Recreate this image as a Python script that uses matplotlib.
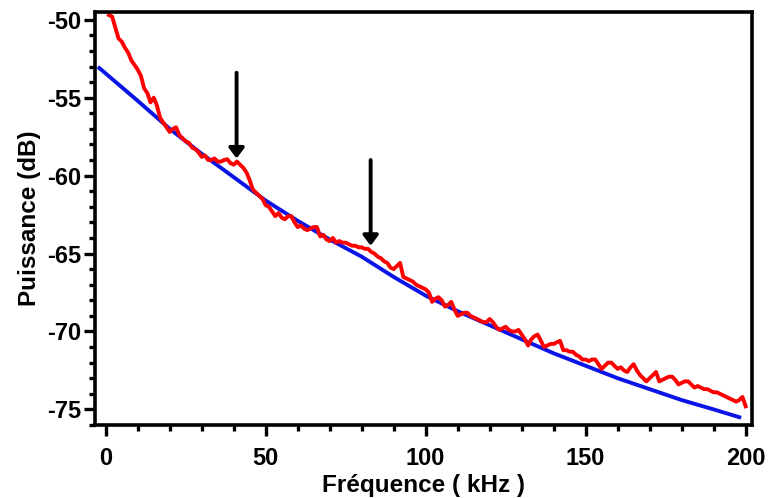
import numpy as np
import matplotlib.pyplot as plt
from matplotlib.ticker import MultipleLocator

plt.rcParams['font.family'] = ['Liberation Sans', 'DejaVu Sans']
plt.rcParams['font.weight'] = 'bold'
plt.rcParams['axes.unicode_minus'] = False

# spectre mesuré (rouge)
freq_mes = np.arange(1, 201)
p_mes = [
    -49.7, -49.8, -50.5, -51.2, -51.4, -51.8, -52.1, -52.6, -52.9, -53.2,
    -53.6, -54.4, -54.7, -55.3, -55.0, -55.5, -56.3, -56.6, -56.9, -57.2,
    -57.0, -56.9, -57.4, -57.6, -57.8, -57.9, -58.2, -58.3, -58.5, -58.8,
    -58.7, -59.0, -59.0, -58.9, -59.1, -59.1, -59.0, -58.95, -59.2, -59.3,
    -59.1, -59.3, -59.5, -59.8, -60.3, -60.9, -61.1, -61.3, -61.5, -61.9,
    -62.0, -62.3, -62.6, -62.4, -62.7, -62.8, -62.6, -62.6, -63.0, -63.3,
    -63.2, -63.4, -63.5, -63.4, -63.3, -63.3, -63.9, -63.8, -64.1, -64.2,
    -64.0, -64.3, -64.2, -64.3, -64.3, -64.4, -64.5, -64.5, -64.6, -64.6,
    -64.7, -64.7, -64.9, -65.0, -65.2, -65.3, -65.5, -65.6, -65.9, -66.0,
    -65.8, -65.6, -66.5, -66.6, -66.7, -66.8, -67.0, -67.1, -67.2, -67.3,
    -67.5, -68.1, -67.9, -67.8, -68.0, -68.4, -68.3, -68.1, -68.6, -69.0,
    -68.9, -68.8, -68.8, -69.0, -69.1, -69.2, -69.3, -69.4, -69.4, -69.2,
    -69.4, -69.7, -69.9, -69.8, -69.7, -69.9, -70.0, -70.0, -69.9, -70.2,
    -70.5, -70.9, -70.5, -70.3, -70.2, -70.6, -71.0, -70.9, -70.8, -70.8,
    -70.7, -70.6, -71.2, -71.2, -71.3, -71.3, -71.5, -71.6, -71.8, -71.8,
    -71.9, -71.8, -71.8, -72.1, -72.4, -72.2, -72.0, -72.0, -72.2, -72.4,
    -72.3, -72.5, -72.6, -72.3, -72.1, -72.5, -72.8, -73.0, -73.2, -73.0,
    -72.8, -72.6, -73.2, -73.1, -73.0, -72.9, -72.9, -73.1, -73.4, -73.3,
    -73.2, -73.2, -73.4, -73.6, -73.5, -73.6, -73.7, -73.7, -73.8, -73.9,
    -73.9, -74.0, -74.1, -74.2, -74.3, -74.4, -74.5, -74.4, -74.2, -74.8,
]

# modèle (bleu)
freq_mod = [-2, 0, 10, 20, 30, 40, 50, 60, 70, 80, 90, 100, 110, 120,
            130, 140, 150, 160, 170, 180, 190, 198]
p_mod = [-53.1, -53.45, -55.2, -57.0, -58.6, -60.1, -61.6, -62.9, -64.1,
         -65.2, -66.5, -67.7, -68.7, -69.6, -70.5, -71.4, -72.2, -73.0,
         -73.7, -74.4, -75.0, -75.5]

# flèches (x, y début, y fin)
fleches_x = [40.9, 82.8]
fleches_y0 = [-53.4, -59.0]
fleches_y1 = [-58.9, -64.5]

fig = plt.figure(figsize=(7.71, 4.98), dpi=100)
ax = fig.add_axes([0.123, 0.1466, 0.852, 0.8294])

ax.plot(freq_mod, p_mod, color='#0a14e6', lw=2.8)
ax.plot(freq_mes, p_mes, color='#ff0000', lw=2.8)

for x, y0, y1 in zip(fleches_x, fleches_y0, fleches_y1):
    ax.annotate('', xy=(x, y1), xytext=(x, y0),
                arrowprops=dict(arrowstyle='-|>,head_length=0.6,head_width=0.45',
                                color='k', lw=2.8, shrinkA=0, shrinkB=0))

ax.set_xlim(-3.4, 201.9)
ax.set_ylim(-76.0, -49.5)
ax.xaxis.set_major_locator(MultipleLocator(50))
ax.xaxis.set_minor_locator(MultipleLocator(10))
ax.yaxis.set_major_locator(MultipleLocator(5))
ax.yaxis.set_minor_locator(MultipleLocator(1))
ax.tick_params(which='major', direction='out', length=8, width=2.4,
               labelsize=17, pad=2)
ax.tick_params(axis='x', which='major', pad=8)
ax.tick_params(which='minor', direction='out', length=4.5, width=2.4)
for s in ax.spines.values():
    s.set_linewidth(2.6)

ax.set_xlabel('Fréquence ( kHz )', fontsize=17.5, fontweight='bold', labelpad=3)
ax.set_ylabel('Puissance (dB)', fontsize=17.5, fontweight='bold', labelpad=4)

fig.savefig('out.png', dpi=100)
